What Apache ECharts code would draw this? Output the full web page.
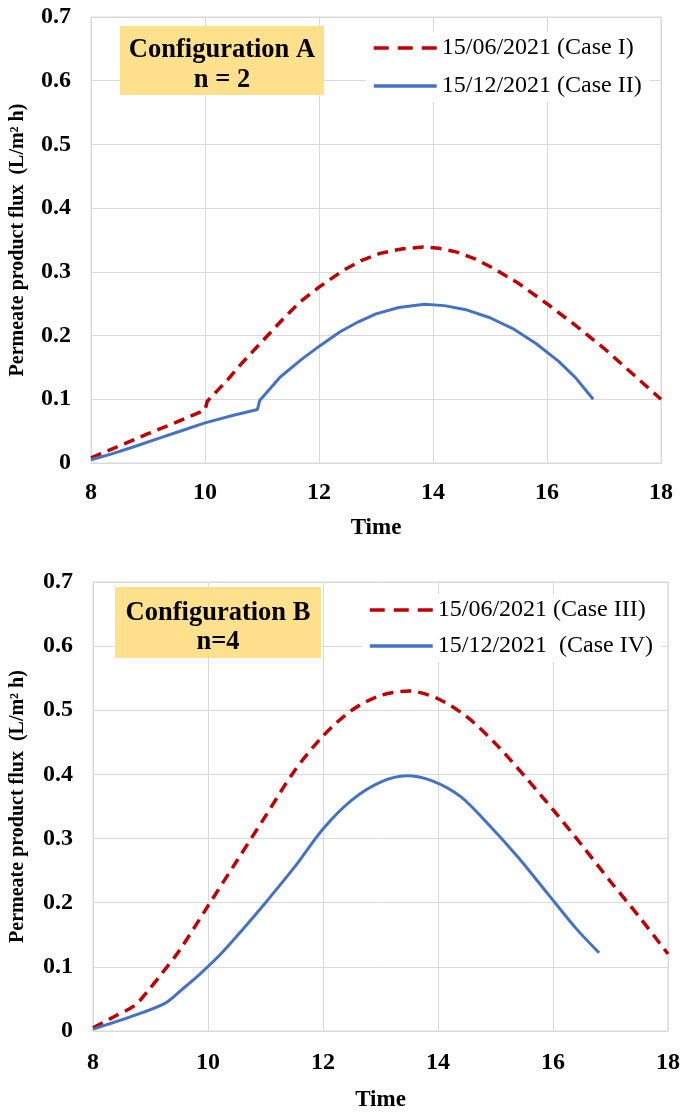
<!DOCTYPE html>
<html>
<head>
<meta charset="utf-8">
<script src="https://cdn.jsdelivr.net/npm/echarts@6/dist/echarts.min.js"></script>
<style>
html,body{margin:0;padding:0;background:#fff;}
#chart{width:683px;height:1113px;}
</style>
</head>
<body>
<div id="chart"></div>
<script>
// ---- data ----
var xTicks = [8, 10, 12, 14, 16, 18];
var yTicks = [0, 0.1, 0.2, 0.3, 0.4, 0.5, 0.6, 0.7];

var nameCaseI = '15/06/2021 (Case I)';
var nameCaseII = '15/12/2021 (Case II)';
var nameCaseIII = '15/06/2021 (Case III)';
var nameCaseIV = '15/12/2021  (Case IV)';

var timeCaseI = [8, 8.5, 9, 9.5, 10, 10.04, 10.39, 10.65, 10.91, 11.14, 11.4, 11.67, 12, 12.42, 12.75, 13.07, 13.45, 13.83, 14.1, 14.42, 14.75, 15.05, 15.5, 16, 16.5, 17, 17.5, 18];
var fluxCaseI = [0.008, 0.027, 0.046, 0.064, 0.083, 0.097, 0.13, 0.157, 0.182, 0.204, 0.229, 0.253, 0.276, 0.302, 0.318, 0.329, 0.336, 0.339, 0.337, 0.331, 0.32, 0.306, 0.282, 0.25, 0.216, 0.18, 0.14, 0.1];

var timeCaseII = [8, 8.35, 8.7, 9.2, 9.6, 10, 10.5, 10.92, 10.96, 11.32, 11.7, 12, 12.37, 12.7, 13, 13.4, 13.85, 14.2, 14.6, 15, 15.4, 15.8, 16.2, 16.5, 16.81];
var fluxCaseII = [0.005, 0.014, 0.024, 0.039, 0.051, 0.063, 0.075, 0.084, 0.098, 0.135, 0.163, 0.183, 0.206, 0.222, 0.234, 0.244, 0.249, 0.247, 0.24, 0.228, 0.211, 0.188, 0.16, 0.134, 0.1];

var timeCaseIII = [8, 8.38, 8.73, 8.95, 9.2, 9.5, 10, 10.5, 11, 11.5, 12, 12.5, 13, 13.5, 14, 14.5, 15, 15.5, 16, 16.5, 17, 17.5, 18];
var fluxCaseIII = [0.005, 0.023, 0.04, 0.062, 0.09, 0.125, 0.195, 0.265, 0.335, 0.405, 0.46, 0.5, 0.523, 0.53, 0.518, 0.49, 0.448, 0.398, 0.345, 0.29, 0.233, 0.178, 0.12];

var timeCaseIV = [8, 8.65, 9.25, 9.55, 9.85, 10.2, 10.6, 11, 11.5, 12, 12.5, 13, 13.45, 13.9, 14.4, 14.9, 15.4, 15.9, 16.4, 16.8];
var fluxCaseIV = [0.003, 0.022, 0.043, 0.065, 0.088, 0.118, 0.158, 0.2, 0.255, 0.315, 0.36, 0.388, 0.398, 0.39, 0.365, 0.32, 0.27, 0.215, 0.16, 0.122];

var yTitle = 'Permeate product flux  (L/m\u00B2 h)';
var xTitle = 'Time';

function pairs(t, v) { return t.map(function (x, i) { return [x, v[i]]; }); }

var FONT = '"Liberation Serif", "Times New Roman", serif';
var GRIDC = '#d9d9d9';
var RED = '#C00000';
var BLUE = '#4472C4';

function xAxis(gridIndex, gap, margin) {
  return {
    gridIndex: gridIndex, type: 'value',
    min: xTicks[0], max: xTicks[xTicks.length - 1], interval: xTicks[1] - xTicks[0],
    name: xTitle, nameLocation: 'middle', nameGap: gap,
    nameTextStyle: { fontFamily: FONT, fontWeight: 'bold', fontSize: 23, color: '#000' },
    axisLine: { show: true, lineStyle: { color: GRIDC, width: 1 } },
    axisTick: { show: false },
    axisLabel: { margin: margin, fontFamily: FONT, fontWeight: 'bold', fontSize: 24, color: '#000' },
    splitLine: { show: true, lineStyle: { color: GRIDC, width: 1 } }
  };
}
function yAxis(gridIndex, gap) {
  return {
    gridIndex: gridIndex, type: 'value',
    min: yTicks[0], max: yTicks[yTicks.length - 1], interval: 0.1,
    name: yTitle, nameLocation: 'middle', nameGap: gap, nameRotate: 90,
    nameTextStyle: { fontFamily: FONT, fontWeight: 'bold', fontSize: 20, color: '#000' },
    axisLine: { show: true, lineStyle: { color: GRIDC, width: 1 } },
    axisTick: { show: false },
    axisLabel: { margin: 20, fontFamily: FONT, fontWeight: 'bold', fontSize: 24, color: '#000',
      formatter: function (v) { return v === 0 ? '0' : (Math.round(v * 10) / 10).toString(); } },
    splitLine: { show: true, lineStyle: { color: GRIDC, width: 1 } }
  };
}
function legend(names, left, top, gap) {
  return {
    data: [
      { name: names[0], lineStyle: { type: [15, 9], width: 3.5 } },
      { name: names[1], lineStyle: { width: 3.5 } }
    ],
    orient: 'vertical', left: left, top: top,
    itemWidth: 63, itemHeight: 14, itemGap: gap,
    backgroundColor: '#fff', padding: [4, 8, 4, 6],
    selectedMode: false,
    itemStyle: { opacity: 0 },
    textStyle: { fontFamily: FONT, fontSize: 24, color: '#000', lineHeight: 24 }
  };
}
function annot(x, y, w, h, l1, l2, y1, y2) {
  var cx = x + w / 2;
  return [
    { type: 'rect', shape: { x: x, y: y, width: w, height: h }, style: { fill: '#FFE08C' }, z: 100 },
    { type: 'text', x: cx, y: y1, z: 101, style: { text: l1, fontFamily: FONT, fontWeight: 'bold', fontSize: 26.5, fill: '#000', align: 'center', verticalAlign: 'middle' } },
    { type: 'text', x: cx, y: y2, z: 101, style: { text: l2, fontFamily: FONT, fontWeight: 'bold', fontSize: 26.5, fill: '#000', align: 'center', verticalAlign: 'middle' } }
  ];
}

var chart = echarts.init(document.getElementById('chart'), null, { renderer: 'canvas' });
chart.setOption({
  backgroundColor: '#fff',
  animation: false,
  grid: [
    { left: 91, top: 17, width: 570, height: 446, show: true, borderColor: GRIDC, borderWidth: 1 },
    { left: 93, top: 582, width: 578, height: 455, show: true, borderColor: GRIDC, borderWidth: 1 }
  ],
  xAxis: [xAxis(0, 54, 18), xAxis(1, 58, 20)],
  yAxis: [yAxis(0, 63), yAxis(1, 65)],
  legend: [
    legend([nameCaseI, nameCaseII], 366, 32, 14),
    legend([nameCaseIII, nameCaseIV], 362, 594, 12)
  ],
  graphic: annot(120, 26, 204, 69, 'Configuration A', 'n = 2', 50, 80)
    .concat(annot(115, 587, 206, 71, 'Configuration B', 'n=4', 613, 642)),
  series: [
    { name: nameCaseI, type: 'line', xAxisIndex: 0, yAxisIndex: 0, data: pairs(timeCaseI, fluxCaseI),
      symbol: 'none', lineStyle: { color: RED, width: 3.5, type: [11, 7] }, itemStyle: { color: RED } },
    { name: nameCaseII, type: 'line', xAxisIndex: 0, yAxisIndex: 0, data: pairs(timeCaseII, fluxCaseII),
      symbol: 'none', lineStyle: { color: BLUE, width: 3 }, itemStyle: { color: BLUE } },
    { name: nameCaseIII, type: 'line', xAxisIndex: 1, yAxisIndex: 1, data: pairs(timeCaseIII, fluxCaseIII),
      symbol: 'none', smooth: 0.3, lineStyle: { color: RED, width: 3.5, type: [11, 7] }, itemStyle: { color: RED } },
    { name: nameCaseIV, type: 'line', xAxisIndex: 1, yAxisIndex: 1, data: pairs(timeCaseIV, fluxCaseIV),
      symbol: 'none', smooth: 0.3, lineStyle: { color: BLUE, width: 3 }, itemStyle: { color: BLUE } }
  ]
});
</script>
</body>
</html>
